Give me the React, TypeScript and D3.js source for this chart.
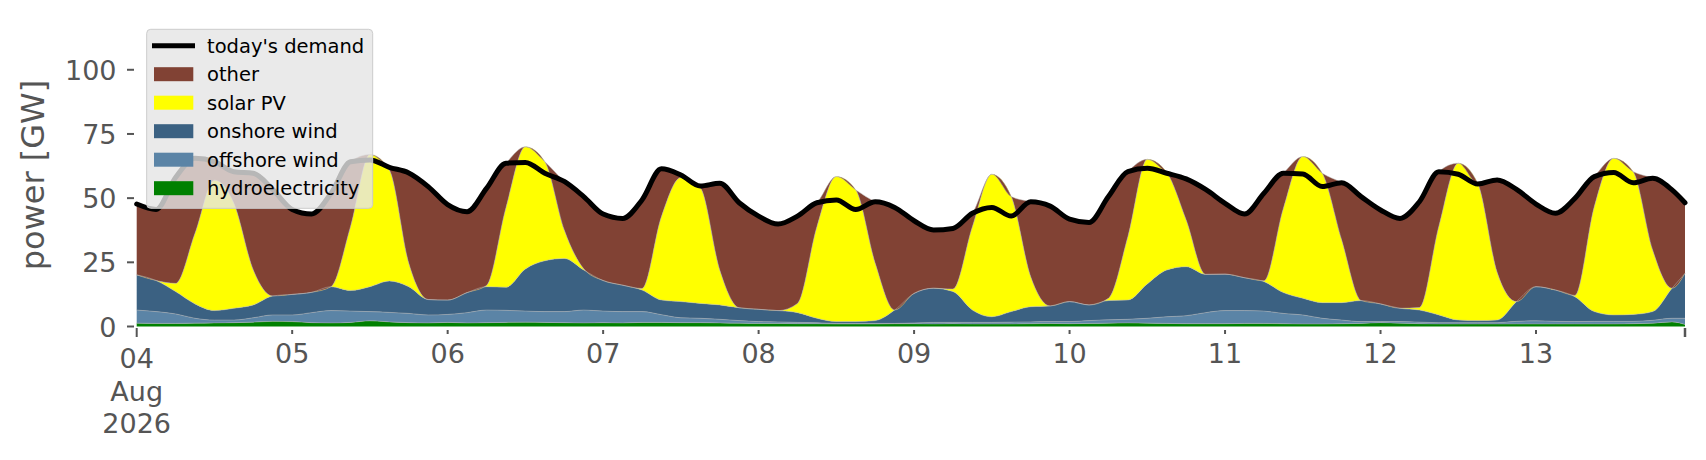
import * as d3 from 'd3';

// hourly offsets of the samples, starting 04 Aug 2026 00:00
const START = new Date(2026, 7, 4, 0, 0);
const hours = [...d3.range(0, 238, 3), 239];

// GW, every 3 hours
const hydro = [
  1.3, 1.2, 1.2, 1.3, 1.4, 1.5, 1.7, 2.0, 1.9, 1.5,
  1.4, 1.6, 2.2, 1.8, 1.5, 1.4, 1.6, 1.4, 1.5, 1.6,
  1.7, 1.6, 1.5, 1.4, 1.5, 1.4, 1.6, 1.6, 1.5, 1.5,
  1.4, 1.3, 1.2, 1.2, 1.1, 1.1, 1.0, 1.0, 1.0, 1.1,
  1.1, 1.0, 1.1, 1.0, 1.0, 1.0, 1.1, 1.2, 1.1, 1.2,
  1.3, 1.4, 1.3, 1.2, 1.1, 1.1, 1.1, 1.2, 1.2, 1.1,
  1.0, 1.0, 1.1, 1.2, 1.5, 1.3, 1.1, 1.0, 1.0, 1.0,
  1.0, 1.0, 1.0, 1.0, 1.0, 1.0, 1.0, 1.1, 1.3, 1.8,
  0.8,
];
const offshore = [
  5.1, 4.6, 3.7, 1.9, 1.1, 1.0, 1.7, 2.5, 2.6, 3.9,
  4.8, 4.4, 3.6, 3.7, 3.6, 3.1, 3.1, 4.0, 4.9, 4.7,
  4.3, 4.2, 4.3, 5.0, 4.5, 4.4, 4.2, 3.0, 1.9, 1.7,
  1.4, 1.0, 0.7, 0.6, 0.5, 0.4, 0.2, 0.2, 0.2, 0.1,
  0.3, 0.6, 0.5, 0.6, 0.6, 0.7, 0.7, 0.7, 0.8, 1.1,
  1.3, 1.4, 1.9, 2.6, 3.1, 4.3, 5.1, 5.0, 4.8, 4.0,
  3.5, 2.2, 1.4, 0.7, 0.4, 0.6, 0.6, 0.5, 0.5, 0.5,
  0.5, 1.0, 1.2, 1.0, 0.9, 1.0, 1.0, 0.9, 1.1, 1.4,
  2.4,
];
const onshore = [
  13.7, 12.1, 8.7, 5.6, 3.7, 4.6, 5.0, 7.4, 8.0, 7.9,
  9.3, 8.0, 9.7, 12.2, 10.4, 6.0, 5.6, 7.8, 9.1, 9.0,
  16.4, 19.8, 20.7, 15.6, 11.9, 10.3, 8.4, 5.7, 6.3, 5.8,
  5.6, 5.0, 4.8, 4.4, 3.8, 1.7, 0.7, 0.7, 1.1, 5.2,
  11.5, 13.3, 12.0, 4.8, 2.2, 4.1, 5.9, 6.1, 7.8, 6.1,
  7.5, 7.5, 13.4, 18.2, 19.1, 14.9, 14.2, 12.8, 11.5, 8.1,
  6.5, 6.1, 6.8, 8.2, 6.9, 5.2, 4.7, 3.0, 1.0, 0.8,
  1.0, 7.7, 13.3, 12.2, 9.7, 3.8, 2.5, 2.7, 3.4, 11.7,
  17.5,
];
const solar = [
  0, 0, 3.2, 27.5, 50.8, 40.9, 13.6, 0, 0, 0,
  0, 24.9, 51.5, 43.3, 9.1, 0, 0, 0, 0.5, 31.0,
  47.6, 38.6, 11.1, 0.5, 0, 0, 0.6, 32.5, 48.3, 45.0,
  13.6, 0, 0, 0, 3.6, 35.7, 56.5, 51.3, 22.3, 0,
  0, 0, 1.0, 32.5, 55.5, 44.8, 11.7, 0, 0, 0,
  0.9, 24.7, 48.5, 38.0, 18.2, 0, 0, 0, 0.3, 32.8,
  55.2, 50.4, 24.4, 0, 0, 0, 1.0, 34.5, 61.1, 53.5,
  18.6, 0, 0, 0, 0.5, 40.9, 61.0, 55.6, 24.0, 0,
  0,
];
const demand = [
  47.7, 45.6, 58.0, 65.5, 64.2, 60.3, 59.7, 53.4, 45.6, 43.8,
  51.9, 64.2, 64.9, 62.0, 59.8, 54.5, 47.5, 44.7, 53.8, 63.6,
  63.9, 59.7, 56.5, 50.6, 43.8, 42.1, 49.3, 61.4, 59.0, 54.7,
  55.8, 48.2, 43.0, 39.9, 43.0, 48.2, 49.3, 45.6, 48.6, 46.4,
  41.2, 37.6, 38.2, 44.1, 46.4, 43.0, 48.6, 46.9, 41.8, 40.5,
  50.6, 60.3, 61.6, 59.7, 57.5, 53.4, 48.0, 43.8, 51.9, 59.7,
  59.4, 54.5, 56.0, 50.6, 45.4, 42.1, 48.6, 60.3, 59.3, 55.5,
  57.1, 53.4, 47.7, 44.1, 49.9, 58.4, 60.0, 56.0, 57.7, 53.2,
  48.2,
];
const yTicks = [0, 25, 50, 75, 100];

const layers = [
  { key: 'hydro', label: 'hydroelectricity', color: '#008000' },
  { key: 'offshore', label: 'offshore wind', color: '#5b84a6' },
  { key: 'onshore', label: 'onshore wind', color: '#3b6182' },
  { key: 'solar', label: 'solar PV', color: '#ffff00' },
  { key: 'other', label: 'other', color: '#814234' },
];

const W = 1706;
const H = 460;
const FONT = '"DejaVu Sans", sans-serif';

export default function App() {
  const rows = hours.map((h, i) => {
    const renew = hydro[i] + offshore[i] + onshore[i] + solar[i];
    return {
      t: d3.timeHour.offset(START, h),
      hydro: hydro[i],
      offshore: offshore[i],
      onshore: onshore[i],
      solar: solar[i],
      other: Math.max(0, demand[i] - renew),
      demand: demand[i],
    };
  });

  const x = d3.scaleTime()
    .domain([rows[0].t, rows[rows.length - 1].t])
    .range([136.7, 1685]);
  const y = d3.scaleLinear().domain([0, 119]).range([326.5, 21]);

  const stacked = d3.stack<any>().keys(layers.map(l => l.key))(rows);
  const area = d3.area<any>()
    .x(d => x(d.data.t))
    .y0(d => y(d[0]))
    .y1(d => y(d[1]))
    .curve(d3.curveMonotoneX);
  const edge = d3.line<any>()
    .x(d => x(d.data.t))
    .y(d => y(d[1]))
    .curve(d3.curveMonotoneX);
  const demandLine = d3.line<any>()
    .x(d => x(d.t))
    .y(d => y(d.demand))
    .curve(d3.curveMonotoneX);

  const days = d3.timeDay.range(rows[0].t, d3.timeHour.offset(rows[rows.length - 1].t, 1));
  const end = rows[rows.length - 1].t;

  const legendItems = [
    { label: "today's demand", color: '#000', line: true },
    ...layers.slice().reverse().map(l => ({ label: l.label, color: l.color, line: false })),
  ];

  return (
    <div style={{ position: 'absolute', left: 0, top: 0 }}>
      <svg width={W} height={H} style={{ display: 'block', background: '#fff' }} fontFamily={FONT}>
        {/* stacked generation */}
        {stacked.map((s, i) => (
          <path key={layers[i].key} d={area(s) ?? ''} fill={layers[i].color} />
        ))}
        {stacked.map((s, i) => (
          <path key={'e' + i} d={edge(s) ?? ''} fill="none" stroke="#b4b4b4" strokeOpacity={0.55} strokeWidth={0.9} />
        ))}
        <path d={demandLine(rows) ?? ''} fill="none" stroke="#000" strokeWidth={5} strokeLinejoin="round" strokeLinecap="round" />

        {/* y axis */}
        {yTicks.map(t => (
          <g key={t}>
            <line x1={127} x2={134} y1={y(t)} y2={y(t)} stroke="#555" strokeWidth={2} />
            <text x={116.5} y={y(t) + 10} textAnchor="end" fontSize={27} fill="#555">{t}</text>
          </g>
        ))}
        <text
          x={43.5}
          y={175}
          textAnchor="middle"
          fontSize={32}
          fill="#555"
          transform={`rotate(-90, 43.5, 175)`}
        >
          power [GW]
        </text>

        {/* x axis */}
        {days.map((d, i) => (
          <g key={i}>
            <line
              x1={x(d)} x2={x(d)}
              y1={i === 0 ? 328 : 330} y2={i === 0 ? 337 : 334}
              stroke="#555" strokeWidth={2}
            />
            <text x={x(d)} y={i === 0 ? 368 : 363} textAnchor="middle" fontSize={27} fill="#555">
              {d3.timeFormat('%d')(d)}
            </text>
            {i === 0 && (
              <>
                <text x={x(d)} y={401} textAnchor="middle" fontSize={27} fill="#555">{d3.timeFormat('%b')(d)}</text>
                <text x={x(d)} y={433} textAnchor="middle" fontSize={27} fill="#555">{d3.timeFormat('%Y')(d)}</text>
              </>
            )}
          </g>
        ))}
        <line x1={x(end)} x2={x(end)} y1={328} y2={337} stroke="#555" strokeWidth={2.5} />

        {/* legend */}
        <g>
          <rect x={146.7} y={29.3} width={226} height={179} rx={4} fill="#e5e5e5" fillOpacity={0.8} stroke="#cccccc" strokeWidth={1} />
          {legendItems.map((it, i) => {
            const cy = 45.7 + i * 28.5;
            return (
              <g key={it.label}>
                {it.line
                  ? <line x1={152} x2={195} y1={cy} y2={cy} stroke={it.color} strokeWidth={5} />
                  : <rect x={154} y={cy - 7} width={39.3} height={14} fill={it.color} />}
                <text x={207} y={cy + 7} fontSize={19.5} fill="#000">{it.label}</text>
              </g>
            );
          })}
        </g>
      </svg>
    </div>
  );
}
